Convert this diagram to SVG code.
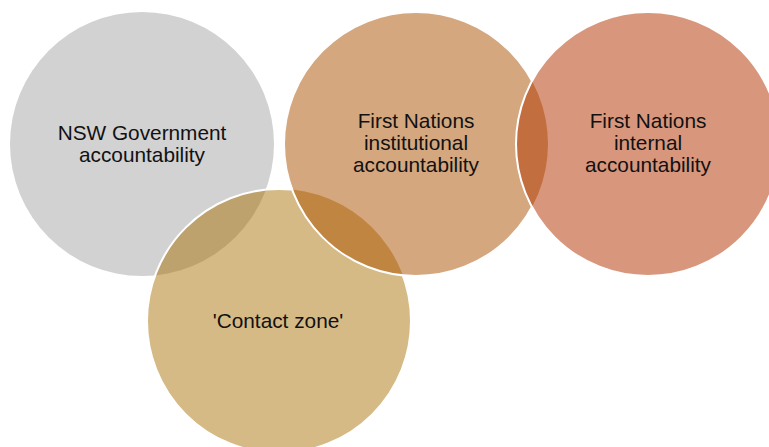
<svg xmlns="http://www.w3.org/2000/svg" width="769" height="447" viewBox="0 0 769 447">
  <style>
    .label { font-family: "Liberation Sans", Arial, sans-serif; font-size: 20.8px; fill: #111; text-anchor: middle; }
    .edge { fill: none; stroke: #ffffff; stroke-width: 2; }
  </style>
  <defs>
    <circle id="c-gov" cx="142" cy="144" r="132"/>
    <circle id="c-contact" cx="279" cy="321" r="132"/>
    <circle id="c-inst" cx="416" cy="144" r="132"/>
    <circle id="c-int" cx="648" cy="144" r="132"/>
    <clipPath id="clip-contact"><use href="#c-contact"/></clipPath>
    <clipPath id="clip-inst"><use href="#c-inst"/></clipPath>
    <clipPath id="clip-int"><use href="#c-int"/></clipPath>
  </defs>
  <rect width="769" height="447" fill="#ffffff"/>

  <g id="nsw-government">
    <use href="#c-gov" fill="#D2D2D2"/>
    <text class="label" x="142" y="140">NSW Government</text>
    <text class="label" x="142" y="162">accountability</text>
  </g>

  <g id="contact-zone">
    <use href="#c-contact" fill="#D5BA86"/>
    <!-- overlap with NSW Government -->
    <use href="#c-gov" fill="#BEA26D" clip-path="url(#clip-contact)"/>
    <use href="#c-contact" class="edge"/>
    <text class="label" x="278" y="328">'Contact zone'</text>
  </g>

  <g id="first-nations-institutional">
    <use href="#c-inst" fill="#D4A77F"/>
    <!-- overlap with contact zone -->
    <use href="#c-contact" fill="#C08540" clip-path="url(#clip-inst)"/>
    <use href="#c-inst" class="edge"/>
    <text class="label" x="416" y="128">First Nations</text>
    <text class="label" x="416" y="150">institutional</text>
    <text class="label" x="416" y="172">accountability</text>
  </g>

  <g id="first-nations-internal">
    <use href="#c-int" fill="#D8977D"/>
    <!-- overlap with institutional accountability -->
    <use href="#c-inst" fill="#C36E3F" clip-path="url(#clip-int)"/>
    <use href="#c-int" class="edge"/>
    <text class="label" x="648" y="128">First Nations</text>
    <text class="label" x="648" y="150">internal</text>
    <text class="label" x="648" y="172">accountability</text>
  </g>

  <g id="connectors"/>
</svg>
